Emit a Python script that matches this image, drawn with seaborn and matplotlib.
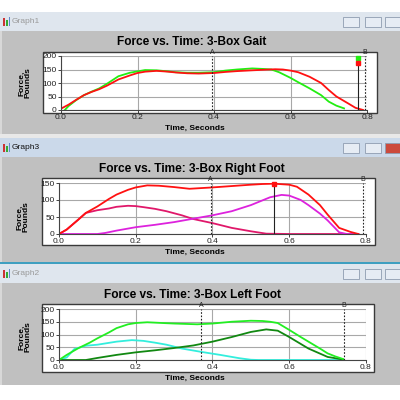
import pandas as pd
import matplotlib
matplotlib.use('Agg')
import matplotlib.pyplot as plt
from matplotlib.patches import Rectangle
import seaborn as sns

# --- Graph1: 3-Box Gait (total force, two feet) ---
gait_left_t = [0.01, 0.02, 0.04, 0.06, 0.08, 0.10, 0.12, 0.15, 0.18, 0.20, 0.22, 0.25, 0.28, 0.30, 0.33,
               0.36, 0.40, 0.43, 0.46, 0.50, 0.53, 0.55, 0.57, 0.60, 0.62, 0.65, 0.68, 0.70, 0.72, 0.74]
gait_left_f = [0, 15, 37, 55, 68, 80, 97, 125, 138, 143, 148, 147, 143, 140, 138,
               138, 140, 146, 150, 154, 152, 150, 140, 119, 103, 80, 55, 31, 16, 6]
gait_right_t = [0.0, 0.02, 0.04, 0.06, 0.08, 0.10, 0.12, 0.15, 0.18, 0.20, 0.22, 0.25, 0.28, 0.30, 0.33, 0.36,
                0.40, 0.43, 0.46, 0.50, 0.53, 0.56, 0.58, 0.60, 0.62, 0.65, 0.68, 0.70, 0.72, 0.75, 0.77, 0.79]
gait_right_f = [5, 20, 38, 55, 67, 77, 90, 113, 128, 137, 142, 145, 142, 139, 136, 135,
                137, 141, 144, 147, 149, 151, 150, 146, 140, 123, 100, 74, 50, 25, 8, 0]

# --- Graph3: 3-Box Right Foot ---
right_total_t = [0.0, 0.02, 0.05, 0.07, 0.10, 0.13, 0.15, 0.18, 0.20, 0.23, 0.26, 0.30, 0.34, 0.37,
                 0.40, 0.45, 0.50, 0.53, 0.56, 0.60, 0.62, 0.65, 0.68, 0.70, 0.73, 0.76, 0.78]
right_total_f = [0, 13, 42, 62, 81, 103, 116, 130, 137, 143, 142, 138, 133, 135,
                 137, 141, 145, 147, 148, 145, 139, 116, 85, 57, 18, 6, 0]
right_heel_t = [0.0, 0.02, 0.05, 0.07, 0.10, 0.13, 0.15, 0.18, 0.20, 0.22, 0.25, 0.28, 0.32, 0.35,
                0.40, 0.45, 0.50, 0.54, 0.60, 0.70, 0.78]
right_heel_f = [0, 13, 42, 62, 70, 75, 80, 83, 82, 79, 74, 67, 55, 44, 32, 18, 8, 1, 0, 0, 0]
right_toe_t = [0.0, 0.10, 0.12, 0.15, 0.20, 0.25, 0.30, 0.35, 0.40, 0.45, 0.50, 0.55, 0.58, 0.60,
               0.63, 0.65, 0.68, 0.70, 0.73, 0.75, 0.78]
right_toe_f = [0, 0, 3, 10, 20, 27, 35, 45, 55, 67, 85, 108, 115, 113, 100, 85, 60, 40, 5, 0, 0]

# --- Graph2: 3-Box Left Foot ---
left_total_t = [0.0, 0.02, 0.05, 0.08, 0.10, 0.13, 0.15, 0.18, 0.20, 0.23, 0.27, 0.30, 0.36, 0.40,
                0.45, 0.50, 0.53, 0.55, 0.57, 0.60, 0.63, 0.65, 0.68, 0.70, 0.72, 0.74]
left_total_f = [0, 20, 46, 68, 85, 108, 125, 140, 145, 148, 145, 143, 140, 143,
                150, 154, 153, 150, 145, 118, 90, 72, 45, 26, 14, 4]
left_heel_t = [0.0, 0.02, 0.04, 0.07, 0.10, 0.15, 0.19, 0.22, 0.25, 0.28, 0.32, 0.37, 0.42, 0.47,
               0.50, 0.52, 0.60, 0.74]
left_heel_f = [0, 10, 43, 56, 60, 72, 78, 75, 68, 60, 45, 32, 20, 7, 1, 0, 0, 0]
left_toe_t = [0.0, 0.07, 0.10, 0.15, 0.20, 0.25, 0.30, 0.35, 0.40, 0.45, 0.50, 0.54, 0.57, 0.60,
              0.65, 0.70, 0.74]
left_toe_f = [0, 0, 8, 20, 30, 38, 47, 57, 72, 90, 110, 120, 115, 90, 45, 12, 2]

x_ticks = [0.0, 0.2, 0.4, 0.6, 0.8]
x_tick_labels = ['0.0', '0.2', '0.4', '0.6', '0.8']

W = H = 400.0
fig = plt.figure(figsize=(4, 4), dpi=100)
fig.patch.set_facecolor('white')
FONT = 'Liberation Sans'


def rect(x0, y0, x1, y1, fc, ec='none', lw=0, z=-3):
    fig.add_artist(Rectangle((x0 / W, 1 - y1 / H), (x1 - x0) / W, (y1 - y0) / H,
                             transform=fig.transFigure, facecolor=fc, edgecolor=ec,
                             linewidth=lw, zorder=z))


def window(bar_top, bar_bot, gray_bot, name, active):
    # title bar, buttons and grey client area of one window
    rect(0, bar_top, 400, bar_bot, '#cbd9ea' if active else '#dfe6ee')
    rect(0, bar_bot, 400, gray_bot, '#c0c0c0')
    rect(0, bar_bot, 2, gray_bot, '#d8d8d8')
    fig.text(12 / W, 1 - (bar_top + bar_bot) / 2 / H, name, fontsize=6, family=FONT,
             color='#111111' if active else '#9a9a9a', va='center')
    rect(3, bar_top + 6, 5, bar_bot - 5, '#cc3333', z=-2)
    rect(6, bar_top + 8, 8, bar_bot - 5, '#33aa33', z=-2)
    rect(9, bar_top + 5, 10, bar_bot - 5, '#6688cc', z=-2)
    cy0, cy1 = bar_top + 5, bar_bot - 4
    for bx0, bx1, col in [(343, 359, '#e6ecf4'), (365, 381, '#e6ecf4'),
                          (385, 400, '#cc4a3c' if active else '#e6ecf4')]:
        rect(bx0, cy0, bx1, cy1, col, ec='#8e9cb0', lw=0.6, z=-2)


def panel(df, palette, box, data_box, ymax, yticks, title, title_y, ylab_xy, xlab_y, cursors):
    bx0, by0, bx1, by1 = box
    rect(bx0, by0, bx1, by1, 'white', ec='#3a3a3a', lw=1.0, z=-1)
    x0, y0, x1, y1 = data_box
    ax = fig.add_axes([x0 / W, 1 - y1 / H, (x1 - x0) / W, (y1 - y0) / H])
    ax.set_facecolor('white')
    sns.lineplot(data=df, x='time', y='force', hue='series', palette=palette,
                 estimator=None, legend=False, linewidth=1.3, ax=ax)
    ax.set_xlim(0, 0.8)
    ax.set_ylim(0, ymax)
    ax.set_xticks(x_ticks)
    ax.set_xticklabels(x_tick_labels)
    ax.set_yticks(yticks)
    ax.set_yticklabels([str(v) for v in yticks])
    ax.grid(True, color='#a8a8a8', linewidth=0.8)
    ax.set_axisbelow(True)
    for s in ['top', 'right']:
        ax.spines[s].set_visible(False)
    for s in ['left', 'bottom']:
        ax.spines[s].set_color('#444444')
        ax.spines[s].set_linewidth(0.8)
    ax.tick_params(length=2, width=0.6, pad=1, labelsize=6, colors='#222222')
    for lbl in ax.get_xticklabels() + ax.get_yticklabels():
        lbl.set_family(FONT)
    ax.set_xlabel('')
    ax.set_ylabel('')
    for kind, xv, lab, marks in cursors:
        if kind == 'dash':
            ax.axvline(xv, color='#222222', linestyle=(0, (1.5, 1.5)), linewidth=0.8)
        else:
            ax.axvline(xv, color='#222222', linewidth=0.8)
        if lab:
            ax.text(xv, ymax * 1.0, lab, fontsize=5, family=FONT, ha='center', va='bottom',
                    color='#222222', clip_on=False)
        for yv, col in marks:
            ax.plot([xv], [yv], marker='s', markersize=3, color=col, clip_on=False)
    fig.text(192 / W, 1 - title_y / H, title, fontsize=8.6, family=FONT, weight='bold',
             ha='center', va='center')
    fig.text(ylab_xy[0] / W, 1 - ylab_xy[1] / H, 'Force,\nPounds', fontsize=6, family=FONT,
             weight='bold', rotation=90, ha='center', va='center', linespacing=1.0)
    fig.text(195 / W, 1 - xlab_y / H, 'Time, Seconds', fontsize=6, family=FONT,
             weight='bold', ha='center', va='center')
    return ax


def frame(pairs):
    rows = []
    for name, t, f in pairs:
        rows.append(pd.DataFrame({'time': t, 'force': f, 'series': name}))
    return pd.concat(rows, ignore_index=True)


# windows
rect(0, 134, 400, 138, '#e8e8e8')
window(12, 31, 134, 'Graph1', False)
window(138, 157, 262, 'Graph3', True)
rect(0, 262, 400, 264, '#3f9fc0')
window(264, 283, 385, 'Graph2', False)

gait = frame([('left', gait_left_t, gait_left_f), ('right', gait_right_t, gait_right_f)])
panel(gait, {'left': '#22ee11', 'right': '#ff1111'}, (43, 52, 377, 113), (61, 56, 367, 110),
      200, [0, 50, 100, 150, 200], 'Force vs. Time: 3-Box Gait', 42, (25, 83), 128,
      [('dash', 0.396, 'A', []), ('solid', 0.776, '', [(192, '#22ee11'), (175, '#ff1111')]),
       ('dash', 0.794, 'B', [])])

right = frame([('heel', right_heel_t, right_heel_f), ('toe', right_toe_t, right_toe_f),
               ('total', right_total_t, right_total_f)])
panel(right, {'total': '#ff1111', 'heel': '#e0186a', 'toe': '#dd22dd'}, (42, 178, 375, 245),
      (59, 183, 366, 234), 150, [0, 50, 100, 150], 'Force vs. Time: 3-Box Right Foot', 169,
      (23, 217), 252,
      [('dash', 0.395, 'A', []), ('solid', 0.56, '', [(148, '#ff1111')]), ('dash', 0.791, 'B', [])])

left = frame([('heel', left_heel_t, left_heel_f), ('toe', left_toe_t, left_toe_f),
              ('total', left_total_t, left_total_f)])
panel(left, {'total': '#22ee22', 'heel': '#33eedd', 'toe': '#118811'}, (42, 304, 374, 372),
      (59, 309, 366, 360), 200, [0, 50, 100, 150, 200], 'Force vs. Time: 3-Box Left Foot', 295,
      (25, 337), 378,
      [('dash', 0.371, 'A', []), ('dash', 0.743, 'B', [])])

fig.savefig('out.png', dpi=100)
